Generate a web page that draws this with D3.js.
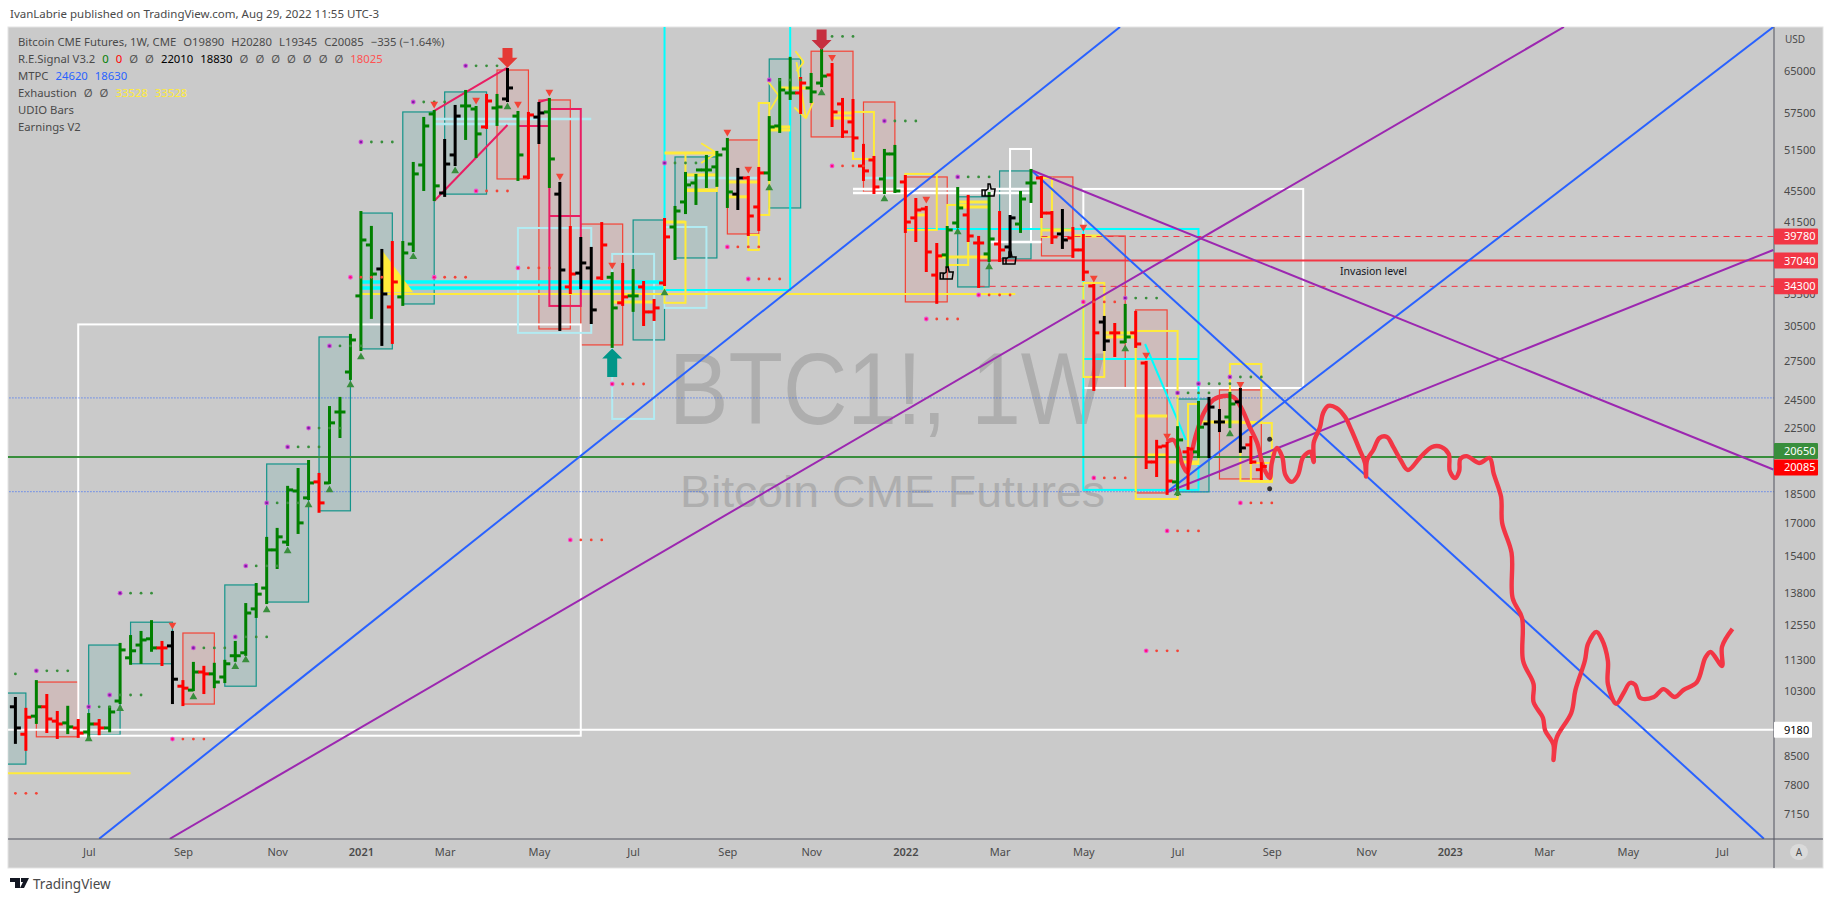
<!DOCTYPE html>
<html>
<head>
<meta charset="utf-8">
<style>
  html, body { margin: 0; padding: 0; background: #fff; }
  text { font-family: "Noto Sans", sans-serif; }
</style>
<script src="https://cdn.jsdelivr.net/npm/d3@7"></script>
</head>
<body>
<svg id="chart"></svg>
<script>
// weekly bars, index 0 is the week of May 11 2020
var barHigh = [10090,9770,10610,10180,9680,9830,9450,9620,9450,9830,11850,12130,12280,12680,11920,12280,10610,11200,11070,11170,11270,11920,13340,14160,16240,16680,18900,19930,20410,19640,23960,24620,29690,42780,40930,38220,39130,39130,49500,56590,57770,53000,58640,61310,58460,60590,60590,65440,57600,57430,59150,59870,46640,40920,39600,38450,41400,35680,36660,36010,34750,32940,41900,43430,48050,47770,50540,51150,53160,48630,47480,48770,56730,63530,67650,63720,64490,69250,66430,59870,59690,52230,50390,51450,52070,47620,44470,43430,38900,40920,45950,44880,39730,45270,42780,42280,45410,48480,47480,42780,43040,40800,39960,34440,31320,30670,32460,31790,27400,21670,21540,22570,21220,24330,24620,23750,24990,25290,21920,20280];
var barLow = [8830,8650,9370,9120,8960,9090,8990,8990,9060,9140,9940,11170,11200,11610,11130,9940,9880,10330,10240,10420,10580,11270,11470,12840,13380,14850,15900,16480,18230,17550,19120,21920,26050,28390,31230,28820,28990,32460,38100,45680,44340,44880,49200,53160,50390,54930,55420,59510,47060,47340,52520,46090,30130,33630,34130,30760,35060,28650,32460,31890,30580,31040,34440,37210,42650,43820,46090,46240,43430,43170,39960,40560,47060,54280,59870,57430,59330,62200,55250,53480,51300,47060,45270,45270,45410,40320,39250,35900,32660,36340,40920,39250,34240,36990,36990,37440,40320,44080,42150,39020,38450,37440,34960,25210,28390,27890,29070,28650,19990,19520,18510,18460,18790,20650,20650,22310,22570,20970,20290,19345];
var barOpen = [9830,9060,9560,9830,9420,9370,9230,9120,9340,9230,10000,11370,11810,12030,11710,11780,10450,10330,10900,10840,10740,11440,11540,13150,13990,15670,16040,18670,18290,19180,19120,23610,26590,33340,38790,36120,32260,33240,38900,49200,57260,45270,50690,58640,58110,55090,58290,59870,56900,47480,56730,57600,45120,34240,35680,36230,35170,35240,32660,33340,34240,31790,34650,40920,44080,46640,48480,48920,51600,45120,47340,43430,48050,55250,60950,60950,61860,62770,64300,58990,55920,49060,49940,47200,50840,46780,42040,43170,35470,37660,41410,42410,39020,37770,38900,38560,41280,46640,47340,42650,40080,39600,38220,34340,30850,29870,29070,29870,27310,20350,21340,19180,20970,20970,22790,22920,23260,24330,21410,19890];
var barClose = [9230,9530,9830,9480,9340,9260,9090,9340,9230,9680,11640,11610,11990,11710,11710,10670,10390,10900,10840,10580,11170,11440,12990,13740,15670,16290,18730,16980,19120,18020,22860,23610,29250,39370,35580,33530,34750,37880,47910,55250,46240,49340,56900,58640,53960,59510,58460,61860,50690,57090,57430,50090,36010,35580,36770,31980,38790,32170,33240,33340,31790,32170,39730,42910,46370,48480,48480,50690,45410,47340,42280,48050,55090,61490,60950,62770,61130,64080,57600,54280,53320,48340,46090,50840,45540,41530,43040,37990,37550,40560,43300,39840,39020,39490,38220,42040,44470,46640,42650,39730,39370,38220,35790,29870,29160,29870,29510,28900,20350,21280,19230,21730,21150,22570,23960,22920,24180,21220,20350,20085];
var barColor = "krgrrgrgrgggggrkrgrggggggggggrgggg".split("").concat("gkrggggkkggrgkgrkgkrkkrgrgrrrgggggg".split("")).concat("krrgggrggrrrrrggrrrrggrrgrkggrrkrrrkrgrrrrgrgkkgkrr".split(""));

// drawings, [first bar, last bar, top price, bottom price]
var tealBoxes = [[-1,1,10240,8290],[7,10,11810,9040],[11,15,12640,11170],[20,23,14120,10450],[24,28,20230,13420],[29,32,29510,17600],[33,36,42650,28480],[37,40,57600,32550],[41,45,61130,45120],[59,62,41780,29250],[63,67,50390,37320],[72,75,67420,43300],[90,93,44760,34240],[94,97,48340,37210],[111,114,24540,18620]];
var redBoxes = [[2,6,10580,8990],[16,19,12240,9910],[46,49,65250,47200],[50,53,59690,30220],[54,58,41280,28820],[68,71,53000,40080],[76,80,69000,53480],[81,84,59330,45410],[85,89,47480,32750],[98,101,47480,37550],[102,106,39840,25360],[107,110,31980,18560],[115,119,25210,19350]];
var yellowBoxes = [[62,64,41530,32660],[64,67,51000,45540],[70,71,39960,38220],[71,72,59150,42410],[80,82,57600,50090],[85,88,47910,40560],[89,91,43690,36550],[98,99,47340,39730],[102,104,34650,26200],[107,111,30040,18230],[112,113,24180,20230],[116,119,27230,22920],[117,120,22850,19230],[118,120,20290,19180]];
var paleBoxes = [[48,55,40800,29870],[57,61,37770,23130],[62,66,40920,32170]];
var pinkBoxes = [[51,54,58110,32360]];
var whiteBoxes = [[6,54,30630,9020],[102,123,45820,25360],[95,97,51600,39130]];
var cyanBoxes = [[62,74,82000,33930],[102,113,40680,18730]];

// horizontal pieces, [first bar, last bar, price]
var yellowBars = [[62,67,51000],[64,67,47770],[64,67,45680],[57,61,32750],[62,64,41530],[68,71,46780],[68,70,44760],[72,74,55090],[72,74,54600],[73,76,61860],[78,80,57430],[78,80,56570],[90,93,44080],[90,93,43430],[88,93,37440],[99,101,40560],[101,104,39840],[104,107,29870],[104,107,29510],[107,110,23330],[108,110,20780],[110,113,20350],[113,117,22920],[86,87,42410],[98,100,40560]];
var yellowLevels = [[33,95.5,33528],[-2,11,8070]];
var cyanBars = [[33,62,34750],[33,62,34130]];
var cyanThin = [[85,113,40680],[102,113,27640]];
var paleBars = [[40,55,56400],[40,48,55580],[64,71,47340],[81,84,47340]];
var pinkBars = [[51,54,42280],[48,51,55250]];
var whiteBars = [[80,97,45820],[80,97,45270],[93,98,39130]];

// sloped lines, [bar, price, bar, price]
var blueLines = [[8,6640,105.5,74150],[110,18620,167.9,74150],[97,48480,167,6640]];
var purpleLines = [[14.75,6640,147.9,74150],[110,18600,167.9,38220],[97,48480,167.9,19900]];
var pinkLines = [[40,57770,47,65700],[40,44210,47,55420],[50,59330,51,59870]];
var cyanLines = [[107.9,28900,111.8,21730]];
var yellowLines = [[65.5,52500,67,51000],[67,51000,65.5,49500],[71.9,63000,72.9,60500],[72.9,60500,72.1,58000],[74.5,69000,75.3,66800],[75.3,66800,74.6,65000],[74.4,58400,75.5,56500],[75.5,56500,76.2,59300],[74.6,66800,75.5,56500]];

// levels across the chart
var levelDashed = [[98,39780],[92,34300]];
var levelInvasion = [92,37040];
var levelGreen = 20650;
var levelsDotted = [24620,18630];
var levelWhite = 9180;

// signals, [bar, price]
var greenDots = [[43,66070],[38,59330],[33,52680],[77,72100],[83,56070],[72,63340],[62,49490],[90,47480],[106,33130],[111,24990],[113,25680],[116,26200],[10,13780],[2,10940],[9,10180],[7,9830],[17,11710],[21,12100],[22,14940],[24,18020],[26,21280],[28,22510],[30,28730],[-3,10840]];
var redDots = [[32,35240],[40,35240],[44,45540],[48,36230],[68,38560],[70,35060],[78,49060],[92,33430],[87,31130],[102,32750],[103,19410],[117,18020],[108,11610],[110,16580],[53,16140],[57,25660],[15,8930],[-1,7600]];
var upMarks = [[7,8930],[10,9770],[17,10120],[21,11070],[22,11300],[24,13110],[26,15620],[28,17910],[30,18730],[32,25590],[33,27810],[38,37440],[42,48340],[47,58460],[62,33630],[72,45950],[77,60950],[83,44470],[90,40320],[93,36340],[106,28480],[116,22120],[111,18560]];
var downMarks = [[15,12540],[40,58990],[44,59690],[48,58990],[51,61130],[52,47620],[57,36550],[68,54280],[70,48630],[78,67760],[87,44470],[102,40920],[103,35170],[108,27970],[110,21990],[117,25640]];
var blackDots = [[119.8,21780],[119.8,18790]];
var thumbs = [[88.9,35680],[94.9,37320],[92.9,45680]];
var bigArrows = [[47,65700,69660,"#e53935"],[77,69250,73600,"#c62f3f"],[57,28520,26200,"#009688"]];
var yellowWedge = [[35,38220],[38,33700],[35,33700]];

// the hand drawn projection, bar position and price
var sketchBars = [110,110.6,111.1,111.4,111.9,112.2,112.7,113.5,114.4,115.4,116.3,117.1,117.9,118.6,119.2,119.8,120,120.5,121,121.3,121.9,122.5,123,123.7,124,124,124.6,124.9,125.4,126.2,127,127.6,128.4,128.9,129,129.1,129.7,130.3,131,131.6,132.3,133,134.2,135.3,136.2,136.9,137,137.5,137.9,138,138.6,139.8,140.8,141.2,141.9,142,142.9,143,143.9,144,145,145,145.9,146.1,146.9,146.9,147.2,148.6,149,149.9,150.2,151,151.5,152.1,152.1,152.9,153.6,154.2,154.7,155.2,156.5,157.4,158.5,159.3,160.6,161.4,161.9,163,163,164];
var sketchPrices = [21620,21730,21090,20290,19750,20470,21920,23540,24470,24760,24690,23890,22570,21540,20050,19400,20290,21220,20650,19580,19180,19580,20650,20970,20350,21540,22570,23540,24040,23890,23260,22380,21090,20290,19490,20470,21090,21860,21920,21280,20470,19870,20650,21280,21280,20840,19810,19400,19810,20530,20710,20290,20590,19640,18340,16980,15530,13580,12800,11270,10520,9970,9510,9170,8780,8390,8960,9650,10330,11270,11850,12280,12030,11270,10520,9920,10240,10550,10490,10090,10120,10360,10120,10330,10580,11370,11570,11100,11750,12390];

// axis labels
var priceTicks = [65000,57500,51500,45500,41500,33500,30500,27500,24500,22500,18500,17000,15400,13800,12550,11300,10300,8500,7800,7150];
var monthTickBars = [7,16,25,33,41,50,59,68,76,85,94,102,111,120,129,137,146,154,163];
var monthLabels = ["Jul","Sep","Nov","2021","Mar","May","Jul","Sep","Nov","2022","Mar","May","Jul","Sep","Nov","2023","Mar","May","Jul"];
// price, fill, text colour, nudge so neighbours do not collide
var priceTags = [[39780,"#f23645","#fff",0],[37040,"#f23645","#fff",0],[34300,"#f23645","#fff",0],[20650,"#388e3c","#fff",-6],[20085,"#ff0000","#fff",1],[9180,"#fff","#000",0]];

// legend rows as [text, colour]
var grey = "#4a4a4a", nil = "#555";
var legendRows = [
	[["Bitcoin CME Futures, 1W, CME",grey],["O19890",grey],["H20280",grey],["L19345",grey],["C20085",grey],["−335 (−1.64%)",grey]],
	[["R.E.Signal V3.2",grey],["0","#008000"],["0","#ff0000"],["Ø",nil],["Ø",nil],["22010","#000"],["18830","#000"],["Ø",nil],["Ø",nil],["Ø",nil],["Ø",nil],["Ø",nil],["Ø",nil],["Ø",nil],["18025","#ff5252"]],
	[["MTPC",grey],["24620","#2962ff"],["18630","#2962ff"]],
	[["Exhaustion",grey],["Ø",nil],["Ø",nil],["33528","#ffeb3b"],["33528","#ffeb3b"]],
	[["UDIO Bars",grey]],
	[["Earnings V2",grey]]
];

function draw(svg, width, height){

	svg.attr('width', width).attr('height', height).style('display', 'block');

	var left = 8, top = 27, right = 1774, axisY = 839, panelRight = 1823, panelBottom = 868;

	// Define scales
	var x = d3.scaleLinear().domain([0, 119]).range([15.4, 15.4 + 119 * 10.47]);
	var y = d3.scaleLog().domain([65000, 9180]).range([71.3, 729.8]);

	svg.append('rect').attr('x', left).attr('y', top)
		.attr('width', panelRight - left).attr('height', panelBottom - top)
		.attr('fill', '#cacaca').attr('stroke', '#e3e3e3');

	svg.append('defs').append('clipPath').attr('id', 'plot')
		.append('rect').attr('x', left).attr('y', top)
		.attr('width', right - left).attr('height', axisY - top);

	var plot = svg.append('g').attr('clip-path', 'url(#plot)');

	// Watermark
	plot.append('text').attr('x', 669).attr('y', 424)
		.attr('textLength', 436).attr('lengthAdjust', 'spacingAndGlyphs')
		.style('font-family', '"Liberation Sans"').style('font-size', '102px')
		.attr('fill', '#aeaeae').text('BTC1!, 1W');
	plot.append('text').attr('x', 680).attr('y', 507)
		.attr('textLength', 425).attr('lengthAdjust', 'spacingAndGlyphs')
		.style('font-family', '"Liberation Sans"').style('font-size', '45px')
		.attr('fill', '#aeaeae').text('Bitcoin CME Futures');

	function boxes(data, stroke, fill, w){
		plot.append('g').selectAll('rect').data(data).enter().append('rect')
			.attr('x', function(d){ return x(d[0]); })
			.attr('y', function(d){ return y(d[2]); })
			.attr('width', function(d){ return x(d[1]) - x(d[0]); })
			.attr('height', function(d){ return y(d[3]) - y(d[2]); })
			.attr('fill', fill).attr('stroke', stroke).attr('stroke-width', w);
	}

	function bars(data, stroke, w, dash){
		plot.append('g').selectAll('line').data(data).enter().append('line')
			.attr('x1', function(d){ return x(d[0]); })
			.attr('x2', function(d){ return x(d[1]); })
			.attr('y1', function(d){ return y(d[2]); })
			.attr('y2', function(d){ return y(d[2]); })
			.attr('stroke', stroke).attr('stroke-width', w)
			.attr('stroke-dasharray', dash || null);
	}

	function slopes(data, stroke, w){
		plot.append('g').selectAll('line').data(data).enter().append('line')
			.attr('x1', function(d){ return x(d[0]); })
			.attr('y1', function(d){ return y(d[1]); })
			.attr('x2', function(d){ return x(d[2]); })
			.attr('y2', function(d){ return y(d[3]); })
			.attr('stroke', stroke).attr('stroke-width', w);
	}

	// Filled boxes go first
	boxes(tealBoxes, '#14948a', 'rgba(0,150,136,0.11)', 1.2);
	boxes(redBoxes, '#f44336', 'rgba(244,67,54,0.1)', 1.2);
	boxes(whiteBoxes, '#fff', 'none', 2);
	bars(whiteBars, '#fff', 2.5);
	boxes(paleBoxes, '#b2ebf2', 'none', 2);
	bars(paleBars, '#b2ebf2', 2.5);
	boxes(cyanBoxes, '#00ffff', 'none', 2);
	bars(cyanBars, '#00ffff', 3.5);
	bars(cyanThin, '#00ffff', 2);
	slopes(cyanLines, '#00ffff', 2);

	// Yellow drawings
	plot.append('polygon')
		.attr('points', yellowWedge.map(function(d){ return x(d[0]) + ',' + y(d[1]); }).join(' '))
		.attr('fill', '#ffeb3b');
	boxes(yellowBoxes, '#ffeb3b', 'none', 2);
	bars(yellowBars, '#ffeb3b', 3);
	bars(yellowLevels, '#ffeb3b', 2);
	slopes(yellowLines, '#ffeb3b', 1.8);

	boxes(pinkBoxes, '#e91e63', 'none', 2);
	bars(pinkBars, '#e91e63', 2);
	slopes(pinkLines, '#e91e63', 2);

	// Levels
	bars([[-2, 170, levelGreen]], '#388e3c', 2);
	bars(levelsDotted.map(function(p){ return [-2, 170, p]; }), '#2962ff', 1, '1 2');
	bars([[-2, 170, levelWhite]], '#fff', 2);
	bars([[levelInvasion[0], 170, levelInvasion[1]]], '#f23645', 2);
	bars(levelDashed.map(function(d){ return [d[0], 170, d[1]]; }), '#f23645', 1, '6 5');

	// Trend lines
	slopes(blueLines, '#2962ff', 2);
	slopes(purpleLines, '#9c27b0', 2);

	// Hand drawn projection
	plot.append('path')
		.datum(d3.zip(sketchBars, sketchPrices))
		.attr('d', d3.line()
			.x(function(d){ return x(d[0]); })
			.y(function(d){ return y(d[1]); })
			.curve(d3.curveCatmullRom))
		.attr('fill', 'none').attr('stroke', '#f23645').attr('stroke-width', 4.4)
		.attr('stroke-linejoin', 'round');

	// Price bars
	var colours = { g: '#008000', r: '#ff0000', k: '#000000' };
	var bar = plot.append('g').selectAll('g').data(barHigh).enter().append('g')
		.attr('stroke', function(d, i){ return colours[barColor[i]]; })
		.attr('stroke-width', 3);
	bar.append('line')
		.attr('x1', function(d, i){ return x(i); }).attr('x2', function(d, i){ return x(i); })
		.attr('y1', function(d, i){ return y(barHigh[i]) - 1; })
		.attr('y2', function(d, i){ return y(barLow[i]) + 1; });
	bar.append('line')
		.attr('x1', function(d, i){ return x(i) - 5.5; }).attr('x2', function(d, i){ return x(i); })
		.attr('y1', function(d, i){ return y(barOpen[i]); })
		.attr('y2', function(d, i){ return y(barOpen[i]); });
	bar.append('line')
		.attr('x1', function(d, i){ return x(i); }).attr('x2', function(d, i){ return x(i) + 5.5; })
		.attr('y1', function(d, i){ return y(barClose[i]); })
		.attr('y2', function(d, i){ return y(barClose[i]); });

	// Dot rows, a magenta one followed by three small ones
	function dots(data, colour, ring, core){
		var row = plot.append('g').selectAll('g').data(data).enter().append('g');
		row.append('circle')
			.attr('cx', function(d){ return x(d[0]); }).attr('cy', function(d){ return y(d[1]); })
			.attr('r', 2.4).attr('fill', ring);
		row.append('circle')
			.attr('cx', function(d){ return x(d[0]); }).attr('cy', function(d){ return y(d[1]); })
			.attr('r', 1.3).attr('fill', core);
		[1, 2, 3].forEach(function(n){
			row.append('circle')
				.attr('cx', function(d){ return x(d[0] + n); }).attr('cy', function(d){ return y(d[1]); })
				.attr('r', 1.4).attr('fill', colour);
		});
	}
	dots(greenDots, '#388e3c', '#cf4fd6', '#7b1fa2');
	dots(redDots, '#f44336', '#f050d0', '#ff1070');

	// Triangles
	var tri = d3.symbol().type(d3.symbolTriangle).size(26);
	plot.append('g').selectAll('path').data(upMarks).enter().append('path')
		.attr('d', tri).attr('fill', '#388e3c')
		.attr('transform', function(d){ return 'translate(' + x(d[0]) + ',' + y(d[1]) + ')'; });
	plot.append('g').selectAll('path').data(downMarks).enter().append('path')
		.attr('d', tri).attr('fill', '#f44336')
		.attr('transform', function(d){ return 'translate(' + x(d[0]) + ',' + y(d[1]) + ') rotate(180)'; });

	plot.append('g').selectAll('circle').data(blackDots).enter().append('circle')
		.attr('cx', function(d){ return x(d[0]); }).attr('cy', function(d){ return y(d[1]); })
		.attr('r', 2.5).attr('fill', '#333');

	// Small thumb icons
	plot.append('g').selectAll('path').data(thumbs).enter().append('path')
		.attr('d', 'M-6 0H-3V6H-6Z M-3 1L0 -1L0 -6L2 -6L3 -1H7L6 6H-3')
		.attr('fill', 'none').attr('stroke', '#000').attr('stroke-width', 1.5)
		.attr('transform', function(d){ return 'translate(' + x(d[0]) + ',' + y(d[1]) + ')'; });

	// Big arrows, d holds bar, tip price, tail price
	plot.append('g').selectAll('path').data(bigArrows).enter().append('path')
		.attr('fill', function(d){ return d[3]; })
		.attr('d', function(d){
			var cx = x(d[0]), tip = y(d[1]), tail = y(d[2]);
			var dir = tail < tip ? -1 : 1;
			var neck = tip + dir * 10;
			return d3.line()([[cx, tip], [cx - 10, neck], [cx - 5, neck], [cx - 5, tail], [cx + 5, tail], [cx + 5, neck], [cx + 10, neck]]) + 'Z';
		});

	plot.append('text').attr('x', 1340).attr('y', y(levelInvasion[1]) + 14)
		.style('font-size', '10.5px').attr('fill', '#131722').text('Invasion level');

	// Axis frame
	svg.append('line').attr('x1', right).attr('x2', right).attr('y1', top).attr('y2', panelBottom)
		.attr('stroke', '#50535e');
	svg.append('line').attr('x1', left).attr('x2', panelRight).attr('y1', axisY).attr('y2', axisY)
		.attr('stroke', '#50535e');

	// Draw y-axis
	var yAxis = d3.axisRight(y).tickValues(priceTicks).tickSize(0).tickPadding(0).tickFormat(d3.format('d'));
	var gy = svg.append('g').attr('transform', 'translate(1784,0)').call(yAxis);
	gy.select('.domain').remove();
	gy.selectAll('text').style('font-size', '11px').attr('fill', '#4a4a4a').attr('x', 0);
	svg.append('text').attr('x', 1785).attr('y', 43).style('font-size', '10px').attr('fill', '#4a4a4a').text('USD');

	// Draw x-axis
	var xAxis = d3.axisBottom(x).tickValues(monthTickBars).tickSize(0).tickPadding(9)
		.tickFormat(function(d, i){ return monthLabels[i]; });
	var gx = svg.append('g').attr('transform', 'translate(0,' + axisY + ')').call(xAxis);
	gx.select('.domain').remove();
	gx.selectAll('text').style('font-size', '11px').attr('fill', '#4a4a4a')
		.style('font-weight', function(d, i){ return /^20/.test(monthLabels[i]) ? 600 : 400; });

	// Price tags
	var tag = svg.append('g').selectAll('g').data(priceTags).enter().append('g')
		.attr('transform', function(d){ return 'translate(' + right + ',' + (y(d[0]) + d[3]) + ')'; });
	tag.append('rect').attr('x', 0).attr('y', -8)
		.attr('width', function(d){ return d[0] === 9180 ? 38 : 44; }).attr('height', 16).attr('rx', 1)
		.attr('fill', function(d){ return d[1]; });
	tag.append('text').attr('x', 10).attr('y', 4).style('font-size', '11px')
		.attr('fill', function(d){ return d[2]; }).text(function(d){ return d[0]; });

	// Auto button
	svg.append('ellipse').attr('cx', 1799).attr('cy', 852).attr('rx', 9).attr('ry', 8).attr('fill', '#dadada');
	svg.append('text').attr('x', 1799).attr('y', 856).attr('text-anchor', 'middle')
		.style('font-size', '10px').attr('fill', '#4a4a4a').text('A');

	// Legend
	var legend = svg.append('g').selectAll('text').data(legendRows).enter().append('text')
		.attr('x', 18).attr('y', function(d, i){ return 46 + i * 17; })
		.style('font-size', '11.3px');
	legend.selectAll('tspan').data(function(d){ return d; }).enter().append('tspan')
		.attr('dx', function(d, i){ return i ? 7 : 0; })
		.attr('fill', function(d){ return d[1]; }).text(function(d){ return d[0]; });

	// Header and footer
	svg.append('text').attr('x', 10).attr('y', 18).style('font-size', '11.5px').attr('fill', '#4a4a4a')
		.text('IvanLabrie published on TradingView.com, Aug 29, 2022 11:55 UTC-3');
	svg.append('path').attr('d', 'M10 878H20V888H15V882H10ZM21 878H29L24 888H20L23 882H21Z').attr('fill', '#131722');
	svg.append('text').attr('x', 33).attr('y', 889).style('font-size', '13.5px').attr('fill', '#4a4a4a').text('TradingView');
}

draw(d3.select('#chart'), 1834, 903);
</script>
</body>
</html>
